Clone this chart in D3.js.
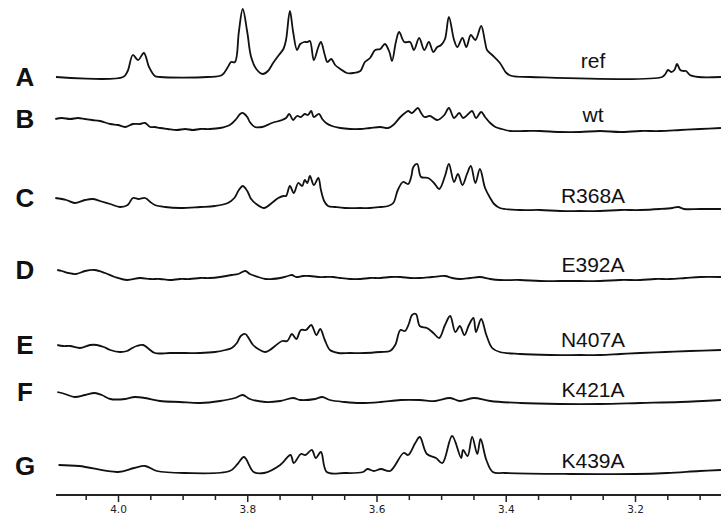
<!DOCTYPE html>
<html>
<head>
<meta charset="utf-8">
<script src="https://cdn.jsdelivr.net/npm/d3@7"></script>
<style>
  body { margin: 0; background: #fff; }
  svg { display: block; }
</style>
</head>
<body>
<div id="chart"></div>
<script>
// chemical shift (ppm) vs intensity, one array per trace
var refData = [[4.096,0],[3.992,0],[3.985,6],[3.977,22],[3.969,17],[3.960,24],[3.952,10],[3.943,1],[3.935,0],
  [3.862,0],[3.839,2],[3.830,10],[3.825,15],[3.819,15],[3.813,45],[3.807,68],[3.800,45],[3.794,20],[3.786,8],
  [3.776,3],[3.768,6],[3.760,14],[3.751,22],[3.744,28],[3.740,37],[3.734,66],[3.729,45],[3.723,27],[3.718,33],
  [3.712,35],[3.707,35],[3.703,36],[3.697,17],[3.690,30],[3.686,35],[3.680,22],[3.676,15],[3.670,18],[3.664,12],
  [3.656,8],[3.646,4],[3.636,4],[3.625,6],[3.618,15],[3.610,19],[3.602,27],[3.594,28],[3.587,33],[3.580,25],
  [3.576,16],[3.570,35],[3.565,45],[3.557,35],[3.548,35],[3.542,27],[3.534,39],[3.526,27],[3.519,35],[3.512,25],
  [3.506,30],[3.500,32],[3.494,38],[3.488,60],[3.480,37],[3.475,30],[3.467,39],[3.461,30],[3.454,42],[3.447,37],
  [3.438,51],[3.432,35],[3.429,27],[3.421,22],[3.409,14],[3.399,4],[3.390,1],[3.362,0],[3.158,0],[3.153,3],
  [3.149,7],[3.144,5],[3.139,7],[3.135,13],[3.130,7],[3.125,6],[3.121,6],[3.115,2],[3.102,0],[3.067,0]];

var wtData = [[4.097,0],[4.087,1],[4.074,0],[4.062,1],[4.051,0],[4.040,-1],[4.028,-2],[4.012,-5],[4.000,-6],
  [3.989,-8],[3.977,-5],[3.966,-5],[3.958,-4],[3.950,-8],[3.943,-8],[3.935,-9],[3.923,-10],[3.909,-11],[3.896,-10],
  [3.884,-11],[3.873,-10],[3.858,-10],[3.842,-9],[3.827,-6],[3.817,0],[3.811,5],[3.807,6],[3.800,2],[3.796,-3],
  [3.788,-8],[3.777,-8],[3.762,-4],[3.746,-1],[3.740,1],[3.735,5],[3.729,-1],[3.723,3],[3.717,2],[3.711,5],
  [3.706,4],[3.701,8],[3.697,2],[3.689,5],[3.684,0],[3.678,-4],[3.669,-7],[3.656,-9],[3.641,-10],[3.625,-10],
  [3.610,-9],[3.594,-8],[3.582,-9],[3.574,-6],[3.563,2],[3.556,6],[3.551,8],[3.545,6],[3.536,11],[3.531,6],
  [3.526,2],[3.517,3],[3.506,-1],[3.495,4],[3.488,11],[3.480,1],[3.472,6],[3.466,1],[3.458,5],[3.452,8],
  [3.446,1],[3.438,7],[3.432,2],[3.424,-4],[3.416,-8],[3.406,-10],[3.393,-12],[3.370,-12],[3.347,-12],[3.316,-13],
  [3.285,-13],[3.254,-12],[3.223,-13],[3.192,-12],[3.161,-12],[3.130,-11],[3.099,-10],[3.067,-9]];

var r368aData = [[4.097,0],[4.080,-2],[4.067,-5],[4.051,-2],[4.039,-1],[4.028,-3],[4.012,-6],[3.997,-9],[3.985,-7],
  [3.977,0],[3.968,-1],[3.958,0],[3.950,-4],[3.943,-7],[3.927,-9],[3.904,-10],[3.873,-9],[3.850,-8],[3.830,-5],
  [3.820,0],[3.813,8],[3.807,12],[3.800,7],[3.794,-1],[3.786,-6],[3.774,-10],[3.762,-5],[3.752,0],[3.744,2],
  [3.740,2],[3.734,12],[3.728,5],[3.721,15],[3.715,12],[3.711,18],[3.707,15],[3.703,22],[3.697,13],[3.690,20],
  [3.686,8],[3.681,-3],[3.675,-8],[3.664,-9],[3.649,-10],[3.625,-10],[3.610,-10],[3.594,-9],[3.582,-8],[3.574,-5],
  [3.567,8],[3.559,16],[3.551,14],[3.546,22],[3.543,31],[3.537,34],[3.531,21],[3.520,20],[3.511,15],[3.503,9],
  [3.494,22],[3.488,34],[3.480,16],[3.474,24],[3.467,13],[3.460,24],[3.454,32],[3.447,15],[3.440,29],[3.432,10],
  [3.424,0],[3.418,-6],[3.409,-10],[3.378,-12],[3.347,-12],[3.316,-13],[3.285,-13],[3.254,-13],[3.223,-12],
  [3.192,-12],[3.161,-11],[3.142,-10],[3.133,-9],[3.124,-11],[3.099,-11],[3.067,-11]];

var e392aData = [[4.094,0],[4.087,-1],[4.077,-3],[4.065,-4],[4.051,-1],[4.036,0],[4.020,-3],[4.005,-7],[3.986,-10],
  [3.966,-8],[3.950,-9],[3.935,-9],[3.920,-10],[3.904,-9],[3.889,-9],[3.873,-8],[3.858,-8],[3.842,-7],[3.824,-5],
  [3.814,-4],[3.803,-1],[3.796,-4],[3.783,-7],[3.772,-9],[3.762,-9],[3.749,-8],[3.737,-6],[3.731,-5],[3.724,-7],
  [3.714,-6],[3.703,-6],[3.690,-7],[3.680,-7],[3.667,-7],[3.656,-8],[3.641,-9],[3.625,-9],[3.610,-8],[3.594,-8],
  [3.579,-7],[3.563,-7],[3.548,-8],[3.533,-8],[3.514,-7],[3.494,-6],[3.483,-8],[3.471,-9],[3.455,-8],[3.440,-7],
  [3.424,-9],[3.409,-10],[3.378,-10],[3.347,-11],[3.316,-11],[3.285,-11],[3.254,-11],[3.223,-10],[3.192,-10],
  [3.169,-9],[3.146,-9],[3.122,-8],[3.099,-7],[3.067,-7]];

var n407aData = [[4.094,0],[4.085,-1],[4.074,-1],[4.059,-3],[4.043,0],[4.033,0],[4.022,-2],[4.012,-5],[3.997,-7],
  [3.986,-6],[3.978,-3],[3.971,-1],[3.961,0],[3.954,-3],[3.943,-8],[3.920,-8],[3.896,-8],[3.873,-8],[3.850,-7],
  [3.834,-5],[3.824,-3],[3.816,2],[3.810,9],[3.803,11],[3.797,6],[3.791,0],[3.783,-4],[3.772,-7],[3.765,-5],
  [3.757,-1],[3.746,4],[3.738,4],[3.731,11],[3.724,6],[3.717,15],[3.709,15],[3.701,20],[3.693,10],[3.687,16],
  [3.680,5],[3.672,-5],[3.659,-8],[3.641,-8],[3.618,-8],[3.594,-7],[3.579,-6],[3.571,0],[3.563,15],[3.556,14],
  [3.550,21],[3.545,30],[3.539,31],[3.533,19],[3.522,17],[3.512,12],[3.503,7],[3.494,20],[3.486,29],[3.478,13],
  [3.471,19],[3.464,10],[3.457,20],[3.450,27],[3.446,13],[3.438,26],[3.430,10],[3.421,-3],[3.409,-7],[3.378,-9],
  [3.331,-10],[3.285,-10],[3.254,-10],[3.223,-9],[3.192,-8],[3.153,-7],[3.115,-6],[3.067,-5]];

var k421aData = [[4.094,0],[4.082,-2],[4.067,-5],[4.051,-3],[4.036,-1],[4.025,-3],[4.012,-7],[3.989,-7],[3.974,-5],
  [3.958,-6],[3.935,-9],[3.904,-10],[3.873,-11],[3.842,-9],[3.819,-6],[3.807,-3],[3.796,-7],[3.772,-10],[3.749,-9],
  [3.729,-6],[3.718,-8],[3.695,-7],[3.684,-5],[3.672,-8],[3.649,-10],[3.625,-11],[3.594,-10],[3.563,-8],[3.533,-8],
  [3.509,-9],[3.486,-6],[3.471,-9],[3.450,-6],[3.424,-9],[3.378,-11],[3.316,-12],[3.254,-12],[3.192,-11],
  [3.130,-10],[3.067,-8]];

var k439aData = [[4.092,1],[4.060,0],[4.000,-6],[3.975,-2],[3.958,0],[3.940,-5],[3.897,-7],[3.827,-5],[3.815,2],
  [3.805,9],[3.790,-6],[3.774,-7],[3.749,1],[3.733,11],[3.728,3],[3.717,12],[3.710,11],[3.700,16],[3.694,8],
  [3.686,14],[3.677,-6],[3.650,-7],[3.621,-6],[3.614,-3],[3.604,-5],[3.593,-3],[3.579,-5],[3.558,13],[3.551,11],
  [3.540,23],[3.533,29],[3.522,12],[3.508,8],[3.498,3],[3.483,30],[3.469,8],[3.466,16],[3.459,10],[3.452,29],
  [3.444,12],[3.439,27],[3.430,6],[3.420,-6],[3.402,-7],[3.300,-8],[3.200,-8],[3.150,-7],[3.100,-5],[3.067,-4]];

var series = [refData, wtData, r368aData, e392aData, n407aData, k421aData, k439aData];
var letters = ['A', 'B', 'C', 'D', 'E', 'F', 'G'];
var names = ['ref', 'wt', 'R368A', 'E392A', 'N407A', 'K421A', 'K439A'];
var offsets = [418, 376, 297, 225, 150, 103, 29];   // stack offset of each trace
var majorTicks = [4.0, 3.8, 3.6, 3.4, 3.2];

var width = 721, height = 519;
var axisY = 495;

var svg = d3.select('#chart')
  .append('svg')
  .attr('width', width)
  .attr('height', height);

var x = d3.scaleLinear()
  .domain([4.0, 3.2])
  .range([118, 635]);

var y = d3.scaleLinear()
  .domain([0, 495])
  .range([axisY, 0]);

// spectra
series.forEach(function (data, i) {
  var line = d3.line()
    .x(function (d) { return x(d[0]); })
    .y(function (d) { return y(offsets[i] + d[1]); })
    .curve(d3.curveCatmullRom.alpha(0.5));

  svg.append('path')
    .datum(data)
    .attr('d', line)
    .attr('fill', 'none')
    .attr('stroke', '#111')
    .attr('stroke-width', 1.8)
    .attr('stroke-linejoin', 'round');
});

// row letters
svg.append('g')
  .selectAll('text')
  .data(letters)
  .enter()
  .append('text')
  .attr('x', 25)
  .attr('y', function (d, i) { return y(offsets[i]) + 9; })
  .attr('text-anchor', 'middle')
  .attr('font-family', 'Liberation Sans, Arial, sans-serif')
  .attr('font-weight', 'bold')
  .attr('font-size', 26)
  .attr('fill', '#111')
  .text(function (d) { return d; });

// sample names
var nameBase = [68, 122, 203, 272, 347, 397, 468];
svg.append('g')
  .selectAll('text')
  .data(names)
  .enter()
  .append('text')
  .attr('x', 593)
  .attr('y', function (d, i) { return nameBase[i]; })
  .attr('text-anchor', 'middle')
  .attr('font-family', 'Liberation Sans, Arial, sans-serif')
  .attr('font-size', 21)
  .attr('fill', '#111')
  .text(function (d) { return d; });

// ppm axis
var axis = d3.axisBottom(x)
  .tickValues(d3.range(4.05, 3.05, -0.05).map(function (v) { return +v.toFixed(2); }))
  .tickSize(5)
  .tickFormat(function (d) {
    return majorTicks.indexOf(d) >= 0 ? d.toFixed(1) : '';
  });

var gAxis = svg.append('g')
  .attr('transform', 'translate(0,' + axisY + ')')
  .call(axis);

gAxis.select('.domain')
  .attr('d', 'M56,0H721')
  .attr('stroke', '#222')
  .attr('stroke-width', 2);

gAxis.selectAll('.tick line')
  .attr('stroke', '#222')
  .attr('stroke-width', 1.5)
  .attr('y2', function (d) { return majorTicks.indexOf(d) >= 0 ? 7 : 5; });

gAxis.selectAll('.tick text')
  .attr('y', 11)
  .attr('font-family', 'DejaVu Sans, Verdana, sans-serif')
  .attr('font-size', 10.5)
  .attr('fill', '#222');
</script>
</body>
</html>
